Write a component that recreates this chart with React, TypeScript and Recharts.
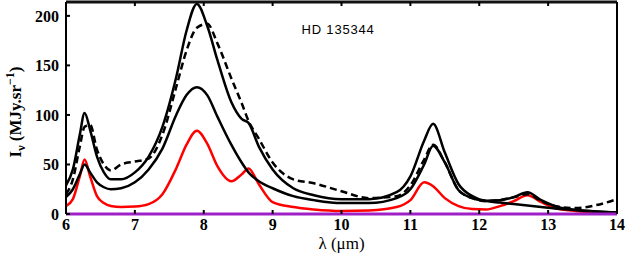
import React from 'react';
import { LineChart, Line, XAxis, YAxis, ReferenceDot } from 'recharts';

const wavelength = [6.0, 6.1, 6.2, 6.27, 6.35, 6.45, 6.55, 6.65, 6.8, 7.0, 7.2, 7.4, 7.6, 7.75, 7.9, 8.05, 8.2, 8.4, 8.55, 8.65, 8.8, 9.0, 9.3, 9.6, 10.0, 10.4, 10.8, 11.0, 11.2, 11.33, 11.5, 11.7, 11.9, 12.1, 12.3, 12.5, 12.7, 12.9, 13.1, 13.4, 13.7, 14.0];
const totalModel = [29, 45, 80, 102, 85, 58, 42, 35, 35, 42, 58, 88, 138, 185, 212, 190, 155, 113, 96, 92, 68, 45, 26, 19, 15, 15, 22, 38, 74, 91, 62, 30, 18, 13.5, 14, 17, 22, 14, 8, 4, 2.5, 1.5];
const observed = [20, 35, 68, 88, 90, 65, 50, 44, 50, 53, 56, 80, 128, 165, 188, 192, 172, 137, 112, 94, 76, 52, 35, 31, 23, 16, 18, 29, 55, 70, 52, 24, 16, 13, 14, 17, 20, 13, 8, 6, 9, 15];
const dustModel = [17, 25, 40, 50, 42, 32, 27, 25, 26, 32, 45, 66, 100, 120, 128, 120, 98, 70, 52, 42, 33, 26, 18, 14, 11, 11, 16, 25, 50, 69, 52, 24, 16, 13, 11.5, 10, 8.5, 7, 5.5, 4, 2.5, 1.5];
const pahModel = [8, 15, 38, 55, 38, 18, 11, 8, 7, 7.5, 10, 20, 46, 70, 84, 71, 48, 33, 40, 46, 30, 12, 7, 4.5, 3, 3.5, 7, 14, 32, 28, 16, 8, 5, 4.5, 8, 13, 19, 12, 6, 3, 1.5, 1];
const baselineX = [6, 14];
const baselineY = [0, 0];

const xTicks = [6, 7, 8, 9, 10, 11, 12, 13, 14];
const yTicks = [0, 50, 100, 150, 200];

const rows = wavelength.map((x, i) => ({
  x,
  total: totalModel[i],
  obs: observed[i],
  dust: dustModel[i],
  pah: pahModel[i],
}));
const baseRows = baselineX.map((x, i) => ({ x, base: baselineY[i] }));

const SERIF = '"Liberation Serif", "Times New Roman", serif';

function YLabel(props: any) {
  const vb = props.viewBox || { x: 0, y: 2, width: 66, height: 212 };
  const cx = vb.x + 21;
  const cy = vb.y + vb.height / 2 + 4;
  return (
    <text
      x={cx}
      y={cy}
      transform={`rotate(-90, ${cx}, ${cy})`}
      textAnchor="middle"
      fontFamily={SERIF}
      fontWeight="bold"
      fontSize={17}
      fill="#000"
    >
      I
      <tspan dy={4} fontSize={12}>ν</tspan>
      <tspan dy={-4}> (MJy.sr</tspan>
      <tspan dy={-7} fontSize={12}>−1</tspan>
      <tspan dy={7}>)</tspan>
    </text>
  );
}

export default function App() {
  const tickStyle = { fontFamily: SERIF, fontWeight: 'bold', fontSize: 16, fill: '#000' };
  return (
    <div style={{ position: 'absolute', left: 0, top: 0, width: 626, height: 256, background: '#fff' }}>
      <LineChart width={626} height={256} data={rows} margin={{ top: 1, right: 8, left: 0, bottom: 0 }}>
        <XAxis
          dataKey="x"
          type="number"
          domain={[6, 14]}
          ticks={xTicks}
          height={42}
          tickSize={-4}
          tickMargin={9}
          tick={tickStyle}
          tickLine={{ stroke: '#000', strokeWidth: 2 }}
          axisLine={false}
          label={{ value: 'λ (μm)', position: 'insideBottom', offset: 7, style: { fontFamily: SERIF, fontSize: 17, fill: '#000' } }}
        />
        <XAxis
          xAxisId="top"
          orientation="top"
          dataKey="x"
          type="number"
          domain={[6, 14]}
          ticks={xTicks}
          height={1}
          tickSize={-4}
          tickMargin={0}
          tickFormatter={() => ''}
          tickLine={{ stroke: '#000', strokeWidth: 2 }}
          axisLine={{ stroke: '#111', strokeWidth: 3 }}
        />
        <YAxis
          type="number"
          domain={[0, 214]}
          ticks={yTicks}
          width={66}
          tickSize={-4}
          tickMargin={11}
          tick={tickStyle}
          tickLine={{ stroke: '#000', strokeWidth: 2 }}
          axisLine={{ stroke: '#000', strokeWidth: 2 }}
          label={<YLabel />}
        />
        <YAxis
          yAxisId="right"
          orientation="right"
          type="number"
          domain={[0, 214]}
          ticks={yTicks}
          width={1}
          tickSize={-4}
          tickMargin={0}
          tickFormatter={() => ''}
          tickLine={{ stroke: '#000', strokeWidth: 2 }}
          axisLine={{ stroke: '#000', strokeWidth: 2 }}
        />
        <Line type="monotone" dataKey="pah" stroke="#ff0000" strokeWidth={2.5} dot={false} isAnimationActive={false} />
        <Line type="monotone" dataKey="dust" stroke="#000" strokeWidth={2.5} dot={false} isAnimationActive={false} />
        <Line type="monotone" dataKey="obs" stroke="#000" strokeWidth={2.5} strokeDasharray="7 4" dot={false} isAnimationActive={false} />
        <Line type="monotone" dataKey="total" stroke="#000" strokeWidth={2.5} dot={false} isAnimationActive={false} />
        <Line data={baseRows} type="linear" dataKey="base" stroke="#a020c8" strokeWidth={3} dot={false} isAnimationActive={false} />
        <ReferenceDot
          x={9.95}
          y={186}
          r={0}
          stroke="none"
          fill="none"
          label={{ value: 'HD 135344', position: 'center', style: { fontFamily: '"Liberation Sans", Arial, sans-serif', fontSize: 13, letterSpacing: 0.8, fill: '#000' } }}
        />
      </LineChart>
    </div>
  );
}
